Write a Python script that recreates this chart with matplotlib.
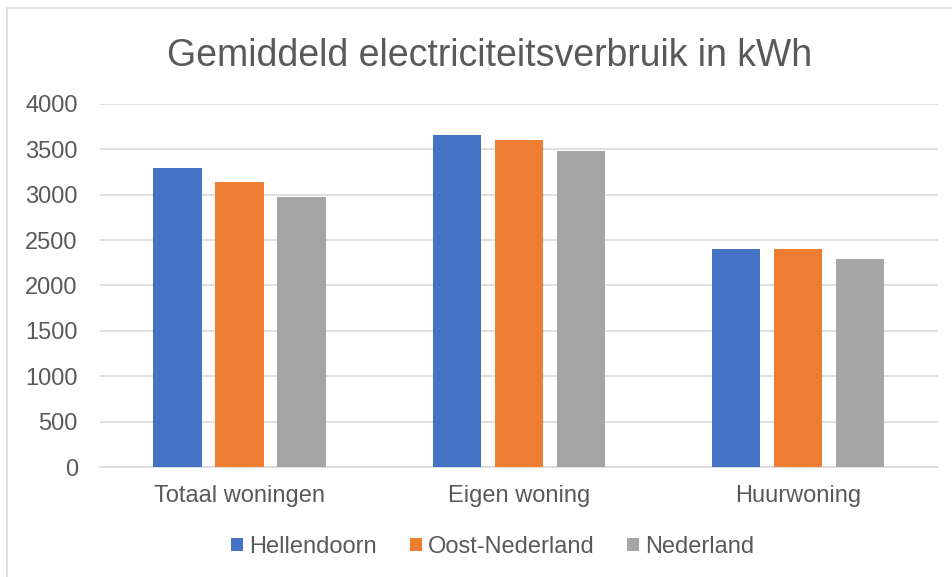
import numpy as np
import matplotlib.pyplot as plt
from matplotlib.patches import Rectangle

plt.rcParams['font.family'] = ['Liberation Sans', 'DejaVu Sans']

categories = ["Totaal woningen", "Eigen woning", "Huurwoning"]
series_names = ["Hellendoorn", "Oost-Nederland", "Nederland"]
hellendoorn = [3300, 3660, 2400]
oost_nederland = [3140, 3600, 2400]
nederland = [2980, 3480, 2290]
y_ticks = [0, 500, 1000, 1500, 2000, 2500, 3000, 3500, 4000]

colors = ["#4472C4", "#ED7D31", "#A5A5A5"]
text_color = "#595959"
grid_color = "#D9D9D9"

fig = plt.figure(figsize=(9.53, 5.77), dpi=100)
ax = fig.add_axes([0.105, 0.1906, 0.879, 0.6292])

x = np.arange(len(categories))
width = 0.174
step = 0.222
for i, (name, vals) in enumerate(zip(series_names, [hellendoorn, oost_nederland, nederland])):
    ax.bar(x + (i - 1) * step, vals, width, color=colors[i], label=name, zorder=3)

ax.set_xlim(-0.5, len(categories) - 0.5)
ax.set_ylim(0, 4000)
ax.set_yticks(y_ticks)
ax.set_xticks(x)
ax.set_xticklabels(categories)
ax.tick_params(axis='both', length=0, labelsize=17, colors=text_color)
ax.tick_params(axis='y', pad=16)
ax.tick_params(axis='x', pad=13)
ax.grid(axis='y', color=grid_color, linewidth=1.2, zorder=0)
for side in ['top', 'right', 'left']:
    ax.spines[side].set_visible(False)
ax.spines['bottom'].set_color(grid_color)
ax.spines['bottom'].set_linewidth(1.2)

fig.text(0.514, 1 - 66 / 577, "Gemiddeld electriciteitsverbruik in kWh", ha='center',
         va='baseline', fontsize=27, color=text_color)

leg = fig.legend(loc='center', bbox_to_anchor=(0.517, 0.052), ncol=3, frameon=False,
                 fontsize=17, handlelength=0.5, handleheight=0.5, handletextpad=0.25,
                 columnspacing=1.4)
for t in leg.get_texts():
    t.set_color(text_color)

# outer chart border
fig.patches.append(Rectangle((0.0073, -0.01), 1.2, 0.996, transform=fig.transFigure,
                             fill=False, edgecolor=grid_color, linewidth=1.2))

fig.savefig("out.png", dpi=100)
